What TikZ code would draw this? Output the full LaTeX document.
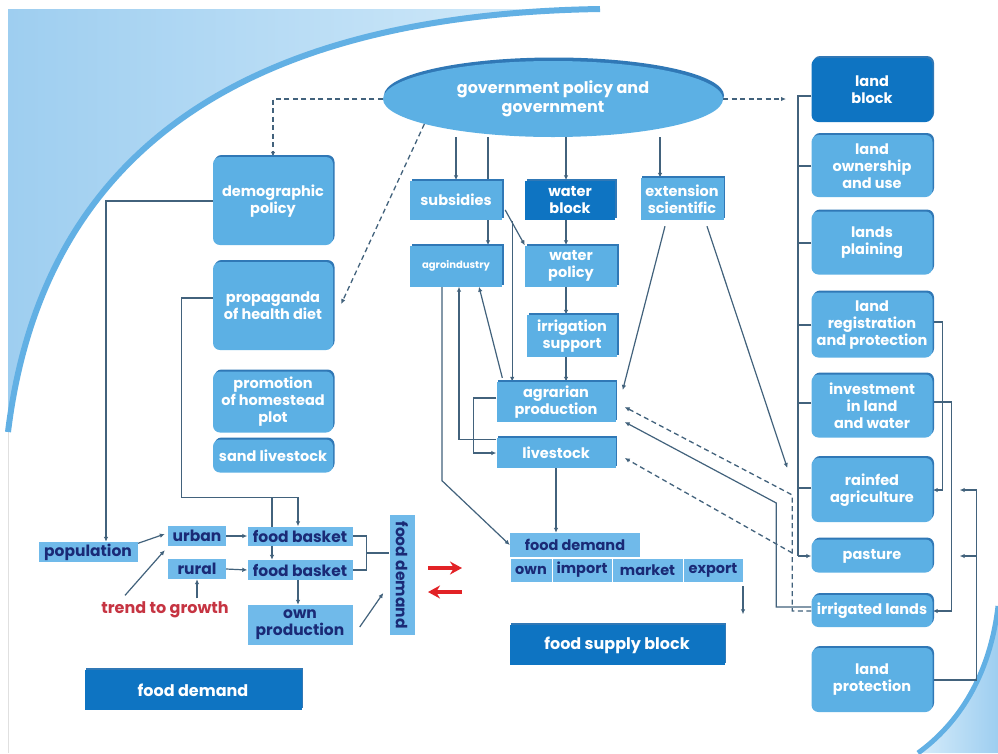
\documentclass[tikz,border=0pt]{standalone}
\usepackage{fontspec}
\setmainfont{Poppins}
\usepackage{tikz}
\usetikzlibrary{shapes,arrows.meta,calc}

\definecolor{boxblue}{RGB}{92,176,228}
\definecolor{boxedge}{RGB}{48,120,182}
\definecolor{darkblock}{RGB}{14,116,194}
\definecolor{tagblue}{RGB}{112,186,234}
\definecolor{navy}{RGB}{26,42,118}
\definecolor{wire}{RGB}{66,98,124}
\definecolor{pagesky}{RGB}{158,206,240}
\definecolor{pagepale}{RGB}{214,236,250}
\definecolor{arcblue}{RGB}{98,176,228}
\definecolor{alarm}{RGB}{226,34,38}
\definecolor{trendred}{RGB}{198,52,66}

\pgfdeclarelayer{page}
\pgfdeclarelayer{wires}
\pgfsetlayers{page,wires,main}

\newcommand{\blockfont}{\bfseries\fontsize{14.5}{17}\selectfont}
\newcommand{\tagfont}{\bfseries\fontsize{15.5}{17}\selectfont}
\newcommand{\rowfont}{\bfseries\fontsize{14.5}{16}\selectfont}
\newcommand{\bigfont}{\bfseries\fontsize{16}{19}\selectfont}

\begin{document}
\begin{tikzpicture}[x=1pt,y=1pt,yscale=-1,
    lift/.style={preaction={fill=boxedge, transform canvas={xshift=1.5pt,yshift=2pt}}},
    roundbox/.style={rectangle, rounded corners=7pt, fill=boxblue, text=white, font=\blockfont, align=center, inner sep=1pt, lift},
    flatbox/.style={rectangle, fill=boxblue, text=white, font=\blockfont, align=center, inner sep=1pt, lift},
    darkbox/.style={flatbox, fill=darkblock},
    darkround/.style={roundbox, fill=darkblock},
    tagbox/.style={rectangle, fill=tagblue, text=navy, font=\tagfont, align=center, inner sep=1pt},
    wire/.style={draw=wire, line width=1.2pt, -{Latex[length=5pt,width=4.5pt]}},
    plainwire/.style={draw=wire, line width=1.2pt},
    dashwire/.style={draw=wire, line width=1.3pt, dash pattern=on 5pt off 3.5pt, -{Latex[length=5pt,width=4.5pt]}},
    alarmarrow/.style={draw=alarm, line width=3.2pt, -{Stealth[length=12pt,width=13pt]}}
  ]
    \useasboundingbox (0,0) rectangle (998,753);

    % page background
    \begin{pgfonlayer}{page}
    \fill[white] (0,0) rectangle (998,753);
    \draw[black!12, line width=0.8pt] (8,9) -- (8,753);
    \shade[left color=pagesky, right color=pagepale] (8,9) -- (8,432) .. controls (40,170) and (220,15) .. (600,9) -- cycle;
    \draw[arcblue, line width=6pt] (8,432) .. controls (40,170) and (220,15) .. (600,9);
    \shade[left color=pagepale, right color=pagesky] (998,606) .. controls (990,676) and (958,724) .. (918,753) -- (998,753) -- cycle;
    \draw[arcblue, line width=5pt] (998,606) .. controls (990,676) and (958,724) .. (918,753);
    \end{pgfonlayer}

    % government
    \node[ellipse, fill=boxblue, text=white, font=\bfseries\fontsize{16}{19}\selectfont, align=center,
      minimum width=340pt, minimum height=76pt, inner sep=0pt,
      preaction={fill=boxedge, transform canvas={xshift=1pt,yshift=3.5pt}}] (gov) at (553,99) {government policy and\\government};

    % left column
    \node[roundbox, minimum width=120pt, minimum height=88pt] (demo) at (273,201) {demographic\\policy};
    \node[roundbox, minimum width=120pt, minimum height=88pt] (prop) at (273,306) {propaganda\\of health diet};
    \node[roundbox, minimum width=120pt, minimum height=61pt] (homestead) at (273,402) {promotion\\of homestead\\plot};
    \node[roundbox, minimum width=120pt, minimum height=33pt] (sand) at (273,456) {sand livestock};

    % middle column
    \node[flatbox, minimum width=92pt, minimum height=39pt] (subs) at (456,200) {subsidies};
    \node[darkbox, minimum width=90pt, minimum height=39pt] (wblock) at (570,200) {water\\block};
    \node[flatbox, minimum width=83pt, minimum height=42pt] (ext) at (682,199) {extension\\scientific};
    \node[flatbox, minimum width=92pt, minimum height=41pt, font=\bfseries\fontsize{10}{11}\selectfont] (agro) at (456,266) {agroindustry};
    \node[flatbox, minimum width=92pt, minimum height=41pt] (wpol) at (571,266) {water\\policy};
    \node[flatbox, minimum width=90pt, minimum height=42pt] (irrig) at (572,336) {irrigation\\support};
    \node[flatbox, minimum width=119pt, minimum height=40pt] (agr) at (556,402) {agrarian\\production};
    \node[flatbox, minimum width=119pt, minimum height=30pt] (live) at (556,453) {livestock};

    % land column
    \node[darkround, minimum width=121pt, minimum height=64pt] (landblk) at (872,90) {land\\block};
    \node[roundbox, minimum width=121pt, minimum height=62pt] (ownuse) at (872,166) {land\\ownership\\and use};
    \node[roundbox, minimum width=121pt, minimum height=63pt] (plain) at (872,243) {lands\\plaining};
    \node[roundbox, minimum width=121pt, minimum height=65pt] (regist) at (872,325) {land\\registration\\and protection};
    \node[roundbox, minimum width=121pt, minimum height=63pt] (invest) at (872,406) {investment\\in land\\and water};
    \node[roundbox, minimum width=121pt, minimum height=64pt] (rainfed) at (872,490) {rainfed\\agriculture};
    \node[roundbox, minimum width=121pt, minimum height=33pt] (pasture) at (872,556) {pasture};
    \node[roundbox, minimum width=121pt, minimum height=32pt] (irrland) at (872,611) {irrigated lands};
    \node[roundbox, minimum width=121pt, minimum height=64pt] (landprot) at (872,680) {land\\protection};

    % demand side
    \node[tagbox, minimum width=99pt, minimum height=20pt] (pop) at (88,552) {population};
    \node[tagbox, minimum width=58pt, minimum height=20pt] (urban) at (197,536) {urban};
    \node[tagbox, minimum width=58pt, minimum height=20pt] (rural) at (197,569) {rural};
    \node[tagbox, minimum width=105pt, minimum height=19pt] (fb1) at (300,536) {food basket};
    \node[tagbox, minimum width=105pt, minimum height=20pt] (fb2) at (300,570) {food basket};
    \node[tagbox, minimum width=105pt, minimum height=40pt] (ownprod) at (300,625) {own\\production};
    \node[tagbox, minimum width=120pt, minimum height=25pt, rotate=-90] (fdv) at (402,575) {food demand};
    \node[font=\bfseries\fontsize{16}{18}\selectfont, text=trendred] (trend) at (165,610) {trend to growth};
    \node[darkbox, font=\bigfont, minimum width=217pt, minimum height=40pt] (fdblock) at (193,690) {food demand};

    % supply side
    \node[tagbox, font=\rowfont, minimum width=130pt, minimum height=24pt] (fdtop) at (575,545) {food demand};
    \node[tagbox, font=\rowfont, draw=white, line width=0.6pt, minimum width=42pt, minimum height=24pt] (own) at (531,570) {own};
    \node[tagbox, font=\rowfont, draw=white, line width=0.6pt, minimum width=60pt, minimum height=24pt] (import) at (582,570) {import};
    \node[tagbox, font=\rowfont, draw=white, line width=0.6pt, minimum width=71pt, minimum height=24pt] (market) at (647.5,570) {market};
    \node[tagbox, font=\rowfont, draw=white, line width=0.6pt, minimum width=60pt, minimum height=24pt] (export) at (713,570) {export};
    \node[darkbox, font=\bigfont, minimum width=215pt, minimum height=40pt] (supply) at (617,645) {food supply block};

    \coordinate (trunktop) at (798,96);
    \coordinate (trunkbot) at (798,556);
    \coordinate (redright) at (428,568);
    \coordinate (redleft) at (462,592);

    \begin{pgfonlayer}{wires}
    % from government
    \draw[dashwire] (gov.west) -| (demo.north);
    \draw[dashwire] (gov.191) -- ($(prop.east)+(8,-2)$);
    \draw[dashwire] (gov.east) -- ($(gov.east -| trunktop)+(-12,0)$);
    \draw[wire] (subs.north |- gov.south) -- (subs.north);
    \draw[wire] ($(subs.north |- gov.south)+(32,0)$) -- ($(agro.north)+(32,0)$);
    \draw[wire] ($(wblock.north |- gov.south)+(-4,0)$) -- ($(wblock.north)+(-4,0)$);
    \draw[wire] ($(ext.north |- gov.south)+(-22,0)$) -- ($(ext.north)+(-22,0)$);

    % middle
    \draw[wire] ($(subs.east)+(3,10)$) -- (wpol.north west);
    \path ($(subs.east)+(10,21)$) coordinate (subsfork);
    \draw[wire] (subsfork) -- (subsfork |- agr.north);
    \draw[wire] ($(wblock.south)+(-4,0)$) -- ($(wpol.north)+(-5,0)$);
    \draw[wire] ($(wpol.south)+(-5,0)$) -- ($(irrig.north)+(-6,0)$);
    \draw[wire] ($(irrig.south)+(-6,0)$) -- ($(agr.north)+(10,0)$);
    \draw[wire] ($(agr.north west)+(6,-4)$) -- ($(agro.south)+(23,0)$);
    \draw[wire] ($(live.north west)+(0,2)$) -| ($(agro.south)+(3,0)$);
    \draw[wire] ($(agr.west)+(0,-4)$) -- ++(-23,0) |- (live.west);
    \draw[wire] ($(agro.south)+(-14,0)$) -- ++(0,194) -- (fdtop.west);
    \draw[wire] (live.south) -- (live.south |- fdtop.north);
    \draw[wire] ($(ext.south)+(-17,6)$) -- ($(agr.east)+(7,-12)$);
    \draw[wire] ($(ext.south)+(25,6)$) -- ($(rainfed.west)+(-24,-22)$);

    % land links back to production
    \draw[dashwire] (irrland.west) -- ++(-19,0) coordinate (dk) -- ++(0,-116) -- ($(agr.east)+(9,5)$);
    \draw[dashwire] ($(dk)+(0,-58)$) -- ($(live.east)+(9,5)$);
    \draw[wire] ($(irrland.west)+(0,-4)$) -- ++(-35,0) -- ++(0,-104) -- ($(agr.east)+(9,20)$);

    % land trunk
    \draw[plainwire] (trunktop -| landblk.west) -- (trunktop) -- (trunkbot);
    \draw[wire] (trunkbot) -- (pasture.west);
    \draw[plainwire] (ownuse.west) -- (ownuse.west -| trunktop);
    \draw[plainwire] (plain.west) -- (plain.west -| trunktop);
    \draw[plainwire] (regist.west) -- (regist.west -| trunktop);
    \draw[plainwire] ($(invest.west)+(0,-3)$) -- ($(invest.west -| trunktop)+(0,-3)$);
    \draw[plainwire] ($(rainfed.west)+(0,-2)$) -- ($(rainfed.west -| trunktop)+(0,-2)$);

    % right side
    \draw[wire] ($(regist.east)+(0,-3)$) -- ++(10,0) |- (rainfed.east);
    \draw[wire] ($(invest.east)+(0,-4)$) -- ++(19,0) |- (irrland.east);
    \draw[wire] (landprot.east) -- ++(44,0) |- ($(rainfed.east)+(27,0)$);
    \draw[wire] ($(landprot.east)+(44,0)$) |- ($(pasture.east)+(27,0)$);

    % demand side
    \draw[wire] (demo.west) -| ($(pop.north)+(18,0)$);
    \draw[wire] ($(prop.west)+(0,-8)$) -- ++(-31,0) |- ($(fb1.north)+(-2,-29)$) -- ($(fb1.north)+(-2,0)$);
    \draw[wire] ($(fb1.north)+(-28,-29)$) -- ($(fb2.north)+(-28,0)$);
    \draw[wire] ($(pop.north east)+(-4,3)$) -- ($(urban.west)+(-3,-2)$);
    \draw[wire] ($(trend.north)+(-40,-3)$) -- ($(urban.south west)+(-3,4)$);
    \draw[wire] (rural.south |- trend.north) -- (rural.south);
    \draw[wire] (urban.east) -- (fb1.west);
    \draw[wire] (rural.east) -- (fb2.west);
    \draw[wire] ($(fb2.south)+(-2,0)$) -- ($(ownprod.north)+(-2,0)$);
    \draw[plainwire] (fb1.east) -- ++(14,0) |- (fb2.east);
    \draw[plainwire] ($(fb1.east)!0.5!(fb2.east)+(14,0)$) coordinate (fbmid) -- (fbmid -| fdv.south);
    \draw[wire] ($(ownprod.east)+(7,2)$) -- ($(fdv.south)+(-6,18)$);
    \draw[wire] ($(export.south)+(30,4)$) -- ++(0,28);
    \end{pgfonlayer}

    % exchange arrows
    \draw[alarmarrow] (redright) -- ++(34,0);
    \draw[alarmarrow] (redleft) -- ++(-34,0);
\end{tikzpicture}
\end{document}
